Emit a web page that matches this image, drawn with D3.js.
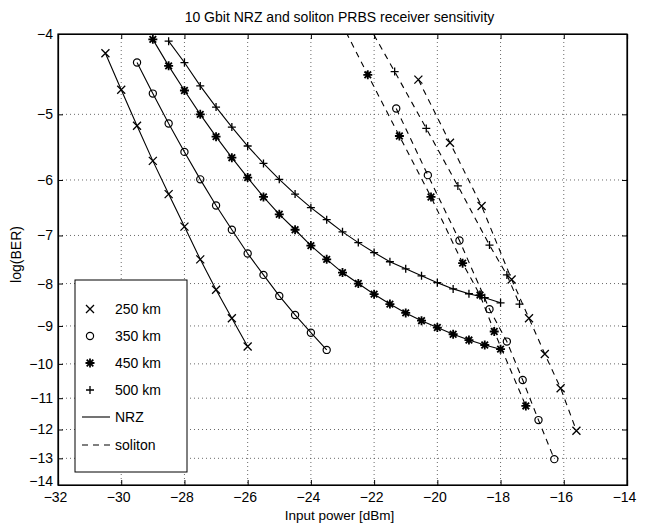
<!DOCTYPE html>
<html><head><meta charset="utf-8">
<script src="https://cdn.jsdelivr.net/npm/d3@7/dist/d3.min.js"></script>
<style>
body{margin:0;background:#fff;}
svg{font-family:"Liberation Sans",Arial,Helvetica,sans-serif;}
</style></head>
<body><svg id="c" width="652" height="524"></svg>
<script>
// ---- data ----
const xTicks = [-32,-30,-28,-26,-24,-22,-20,-18,-16,-14];
const yTicks = [-4,-5,-6,-7,-8,-9,-10,-11,-12,-13,-14];

const nrz250X = [-30.5,-30,-29.5,-29,-28.5,-28,-27.5,-27,-26.5,-26];
const nrz250Y = [-4.22,-4.67,-5.16,-5.69,-6.24,-6.83,-7.48,-8.14,-8.81,-9.53];
const nrz350X = [-29.5,-29,-28.5,-28,-27.5,-27,-26.5,-26,-25.5,-25,-24.5,-24,-23.5];
const nrz350Y = [-4.33,-4.72,-5.13,-5.55,-5.99,-6.44,-6.89,-7.36,-7.81,-8.28,-8.73,-9.17,-9.62];
const nrz450X = [-29,-28.5,-28,-27.5,-27,-26.5,-26,-25.5,-25,-24.5,-24,-23.5,-23,-22.5,-22,-21.5,-21,-20.5,-20,-19.5,-19,-18.5,-18];
const nrz450Y = [-4.06,-4.37,-4.68,-5.00,-5.32,-5.64,-5.96,-6.29,-6.60,-6.89,-7.20,-7.48,-7.76,-8.00,-8.24,-8.47,-8.68,-8.87,-9.04,-9.21,-9.36,-9.49,-9.60];
const nrz500X = [-28.5,-28,-27.5,-27,-26.5,-26,-25.5,-25,-24.5,-24,-23.5,-23,-22.5,-22,-21.5,-21,-20.5,-20,-19.5,-19,-18.5,-18];
const nrz500Y = [-4.08,-4.33,-4.62,-4.90,-5.18,-5.46,-5.73,-5.99,-6.24,-6.48,-6.70,-6.93,-7.14,-7.34,-7.53,-7.68,-7.83,-7.98,-8.12,-8.23,-8.32,-8.44];

const sol250X = [-20.6,-19.6,-18.6,-17.65,-17.1,-16.6,-16.1,-15.6];
const sol250Y = [-4.54,-5.41,-6.45,-7.91,-8.81,-9.73,-10.70,-12.04];
const sol350X = [-21.3,-20.3,-19.3,-18.35,-17.8,-17.3,-16.8,-16.3];
const sol350Y = [-4.92,-5.92,-7.10,-8.59,-9.40,-10.46,-11.69,-13.03];
const sol450X = [-23.2,-22.2,-21.2,-20.2,-19.2,-18.65,-18.2,-17.2];
const sol450Y = [-3.77,-4.48,-5.31,-6.29,-7.56,-8.26,-9.14,-11.24];
const sol500X = [-22.35,-21.35,-20.35,-19.35,-18.35,-17.8,-17.4];
const sol500Y = [-3.80,-4.44,-5.20,-6.10,-7.19,-7.81,-8.47];

const legendLabels = ["250 km","350 km","450 km","500 km","NRZ","soliton"];
const markerKinds = ["x","o","*","+"];

// ---- layout ----
const L=58, R=627, T=34, B=485;
const svg = d3.select("#c");
const x = d3.scaleLinear().domain([-32,-14]).range([L,R]);
// log(BER) axis: log scale of -log(BER)
const yl = d3.scaleLog().domain([4,14]).range([T,B]);
const y = v => yl(-v);
const yTickMag = yTicks.map(v=>-v);

svg.append("defs").append("clipPath").attr("id","clip")
  .append("rect").attr("x",L).attr("y",T).attr("width",R-L).attr("height",B-T);

// grid
const grid = svg.append("g").attr("stroke","#444").attr("stroke-width",0.8).attr("stroke-dasharray","1,3");
grid.selectAll(".gx").data(xTicks.slice(1,-1)).enter().append("line")
  .attr("x1",d=>x(d)).attr("x2",d=>x(d)).attr("y1",T).attr("y2",B);
grid.selectAll(".gy").data(yTicks.slice(1,-1)).enter().append("line")
  .attr("y1",d=>y(d)).attr("y2",d=>y(d)).attr("x1",L).attr("x2",R);

// axes
const fmt = d => String(d).replace("-","\u2212");
const ax = svg.append("g").attr("transform",`translate(0,${B})`)
  .call(d3.axisBottom(x).tickValues(xTicks).tickSize(-5).tickPadding(7).tickFormat(fmt));
svg.append("g").attr("transform",`translate(0,${T})`)
  .call(d3.axisTop(x).tickValues(xTicks).tickSize(-5).tickFormat(""));
const ay = svg.append("g").attr("transform",`translate(${L},0)`)
  .call(d3.axisLeft(yl).tickValues(yTickMag).tickSize(-5).tickPadding(5).tickFormat(d=>"\u2212"+d));
svg.append("g").attr("transform",`translate(${R},0)`)
  .call(d3.axisRight(yl).tickValues(yTickMag).tickSize(-5).tickFormat(""));
svg.selectAll(".domain").attr("stroke","#000").attr("stroke-width",1.2);
svg.selectAll(".tick line").attr("stroke","#000");
svg.selectAll(".tick text").attr("font-size",14).attr("fill","#000")
  .attr("font-family","'Liberation Sans',Arial,sans-serif");
ax.selectAll(".tick text").attr("dx",-3);
ay.selectAll(".tick text").filter(d=>d===14).attr("y",-4);

// marker drawing
function marker(g, kind, cx, cy){
  if(kind==="o"){
    g.append("circle").attr("cx",cx).attr("cy",cy).attr("r",3.6)
      .attr("fill","none").attr("stroke","#000").attr("stroke-width",1.2);
    return;
  }
  let p;
  if(kind==="x") p="M-4,-4L4,4M-4,4L4,-4";
  else if(kind==="+") p="M-4,0L4,0M0,-4L0,4";
  else p="M-4.5,0L4.5,0M0,-4.5L0,4.5M-3.3,-3.3L3.3,3.3M-3.3,3.3L3.3,-3.3";
  g.append("path").attr("transform",`translate(${cx},${cy})`).attr("d",p)
    .attr("fill","none").attr("stroke","#000").attr("stroke-width",kind==="*"?1.8:1.3);
}

const plot = svg.append("g").attr("clip-path","url(#clip)");
const line = d3.line().x(d=>x(d[0])).y(d=>y(d[1]));
const series = [
  {xs:nrz250X, ys:nrz250Y, m:"x", dash:null},
  {xs:nrz350X, ys:nrz350Y, m:"o", dash:null},
  {xs:nrz450X, ys:nrz450Y, m:"*", dash:null},
  {xs:nrz500X, ys:nrz500Y, m:"+", dash:null},
  {xs:sol250X, ys:sol250Y, m:"x", dash:"6,5"},
  {xs:sol350X, ys:sol350Y, m:"o", dash:"6,5"},
  {xs:sol450X, ys:sol450Y, m:"*", dash:"6,5"},
  {xs:sol500X, ys:sol500Y, m:"+", dash:"6,5"}
];
series.forEach(s=>{
  const pts = s.xs.map((v,i)=>[v,s.ys[i]]);
  plot.append("path").datum(pts).attr("d",line).attr("fill","none")
    .attr("stroke","#000").attr("stroke-width",1.1)
    .attr("stroke-dasharray",s.dash);
  pts.forEach(p=>marker(plot,s.m,x(p[0]),y(p[1])));
});

// frame
svg.append("rect").attr("x",L).attr("y",T).attr("width",R-L).attr("height",B-T)
  .attr("fill","none").attr("stroke","#000").attr("stroke-width",1.2);

// legend
const lg = svg.append("g");
lg.append("rect").attr("x",75).attr("y",280).attr("width",112).attr("height",192)
  .attr("fill","#fff").attr("stroke","#000").attr("stroke-width",1);
const ly = [309,336,363,390,417,445];
legendLabels.forEach((t,i)=>{
  if(i<4) marker(lg, markerKinds[i], 90, ly[i]);
  else lg.append("line").attr("x1",82).attr("x2",110).attr("y1",ly[i]).attr("y2",ly[i])
    .attr("stroke","#000").attr("stroke-width",1.1).attr("stroke-dasharray",i===5?"6,5":null);
  lg.append("text").attr("x",115).attr("y",ly[i]+5).attr("font-size",14).text(t);
});

// titles
svg.append("text").attr("x",(L+R)/2-3).attr("y",22).attr("text-anchor","middle")
  .attr("font-size",14).text("10 Gbit NRZ and soliton PRBS receiver sensitivity");
svg.append("text").attr("x",(L+R)/2-3).attr("y",520).attr("text-anchor","middle")
  .attr("font-size",13.5).text("Input power [dBm]");
svg.append("text").attr("transform",`translate(21,${(T+B)/2-5}) rotate(-90)`)
  .attr("text-anchor","middle").attr("font-size",14).text("log(BER)");
</script></body></html>
